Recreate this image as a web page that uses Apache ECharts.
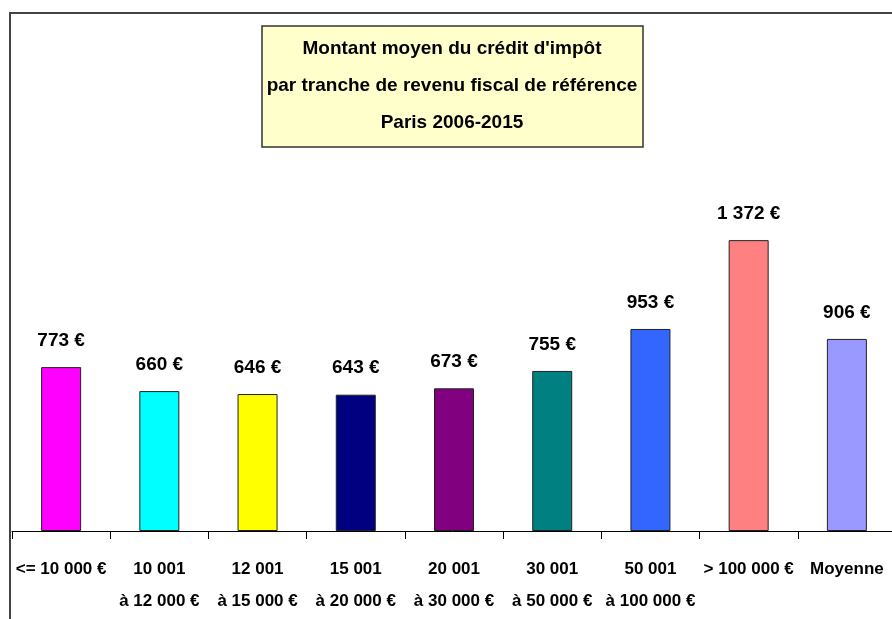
<!DOCTYPE html>
<html>
<head>
<meta charset="utf-8">
<script src="https://cdn.jsdelivr.net/npm/echarts@6/dist/echarts.min.js"></script>
<style>
  html, body { margin: 0; padding: 0; background: #fff; }
  #chart { width: 892px; height: 619px; }
</style>
</head>
<body>
<div id="chart"></div>
<script>
// tranches de revenu fiscal de référence
const categories = [
  "<= 10 000 €",
  "10 001\nà 12 000 €",
  "12 001\nà 15 000 €",
  "15 001\nà 20 000 €",
  "20 001\nà 30 000 €",
  "30 001\nà 50 000 €",
  "50 001\nà 100 000 €",
  "> 100 000 €",
  "Moyenne"
];
const montants = [773, 660, 646, 643, 673, 755, 953, 1372, 906];
const couleurs = ["#FF00FF", "#00FFFF", "#FFFF00", "#000080", "#800080", "#008080", "#3366FF", "#FF8080", "#9999FF"];
const titre = "Montant moyen du crédit d'impôt\npar tranche de revenu fiscal de référence\nParis 2006-2015";

const police = '"Liberation Sans", Arial, sans-serif';

const chart = echarts.init(document.getElementById("chart"));
chart.setOption({
  animation: false,
  grid: { left: 12, right: -4, top: 107, bottom: 88, outerBoundsMode: "none" },
  xAxis: {
    type: "category",
    data: categories,
    boundaryGap: true,
    axisLine: { lineStyle: { color: "#000", width: 1 } },
    axisTick: { show: true, alignWithLabel: false, length: 8, lineStyle: { color: "#000" } },
    axisLabel: {
      interval: 0,
      margin: 22,
      color: "#000",
      fontFamily: police,
      fontWeight: "bold",
      fontSize: 17,
      lineHeight: 32
    }
  },
  yAxis: {
    type: "value",
    min: 0,
    max: 2000,
    show: false,
    splitLine: { show: false }
  },
  series: [
    {
      type: "bar",
      barWidth: 40,
      data: montants.map((v, i) => ({
        value: v,
        itemStyle: { color: couleurs[i] }
      })),
      itemStyle: { borderColor: "#222", borderWidth: 1 },
      label: {
        show: true,
        position: "top",
        distance: 17,
        color: "#000",
        fontFamily: police,
        fontWeight: "bold",
        fontSize: 19,
        formatter: p => p.value.toLocaleString("fr-FR").replace(/\s/g, " ") + " €"
      }
    }
  ],
  graphic: [
    {
      type: "rect",
      shape: { x: 10, y: 13, width: 1000, height: 700 },
      style: { fill: "none", stroke: "#444", lineWidth: 2 },
      silent: true
    },
    {
      type: "rect",
      shape: { x: 262, y: 26, width: 381, height: 121 },
      style: { fill: "#FFFFCC", stroke: "#333", lineWidth: 1.5 },
      silent: true
    },
    {
      type: "text",
      x: 452,
      y: 30,
      style: {
        text: titre,
        align: "center",
        verticalAlign: "top",
        fill: "#000",
        font: "bold 19px " + police,
        lineHeight: 37
      },
      silent: true
    }
  ]
});
</script>
</body>
</html>
